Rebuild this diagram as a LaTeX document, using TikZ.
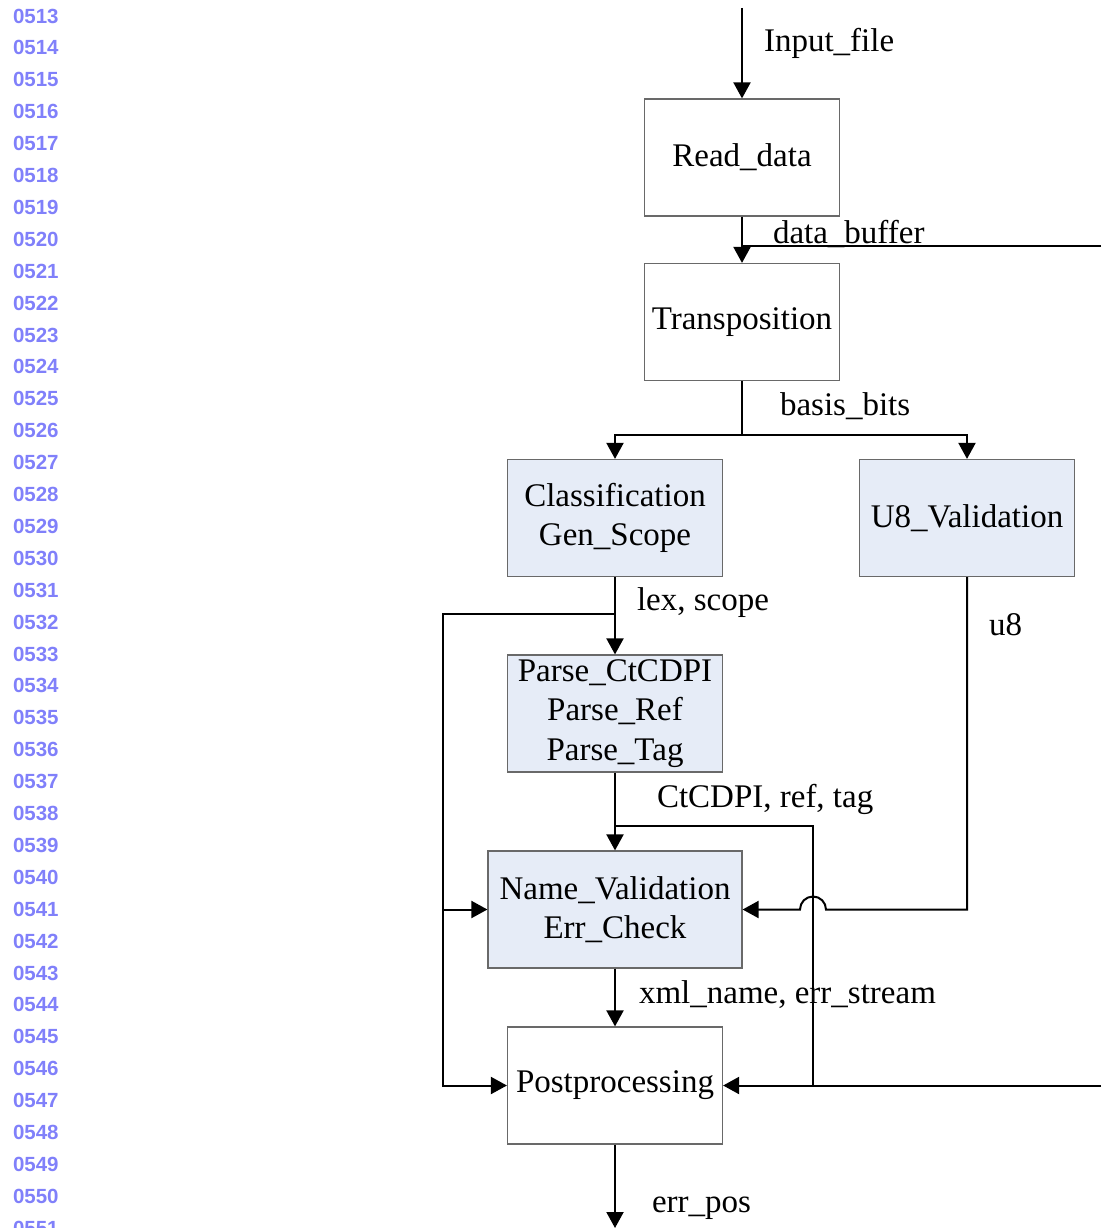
\documentclass[tikz,border=0pt]{standalone}
\usepackage{fontspec}
\setmainfont{Liberation Serif}
\newfontfamily\numfont{Liberation Sans}
\usetikzlibrary{arrows.meta,calc}
\definecolor{flBlue}{RGB}{230,236,247}
\definecolor{flEdge}{RGB}{105,105,105}
\definecolor{flNum}{RGB}{128,128,250}

\begin{document}
\begin{tikzpicture}[x=1pt,y=-1pt,
  font=\fontsize{33}{39.5}\selectfont,
  >={Triangle[length=16pt,width=17pt]},
  every path/.style={line width=2pt},
  box/.style={draw=flEdge, line width=1.2pt, fill=white, minimum width=#1,
    minimum height=117pt, align=center, inner sep=0pt},
  box/.default=215pt,
  hl/.style={fill=flBlue},
  lbl/.style={anchor=west, inner sep=0pt},
  num/.style={anchor=west, inner sep=0pt, text=flNum,
    font=\numfont\bfseries\fontsize{20.5}{24}\selectfont}]
  \useasboundingbox (0,0) rectangle (1101,1228);

  % Line numbers
  \foreach \n in {513,...,551} {
    \pgfmathsetmacro\ly{16+(\n-513)*31.9}
    \node[num] (ln\n) at (12,\ly) {0\n};
  }

  % Input
  \coordinate (in) at (742,8);
  \node[box=195pt] (read) at (742,157.5) {Read\_data};
  \draw[->] (in) -- (read);
  \node[lbl] (l-in) at (763,43) {Input\_file};

  % data_buffer
  \node[box=195pt] (trans) at (742,322) {Transposition};
  \draw[->] (read) -- (trans);
  \coordinate (buf) at (1101,246);
  \draw (buf) -- (buf -| read);
  \node[lbl] (l-buf) at (772,234) {data\_buffer};

  % basis_bits
  \node[box, hl] (class) at (615,518) {Classification\\Gen\_Scope};
  \node[box, hl] (u8) at (967,518) {U8\_Validation};
  \coordinate (split) at (742,435);
  \draw (trans) -- (split);
  \draw[->] (split) -| (class);
  \draw[->] (split) -| (u8);
  \node[lbl] (l-bits) at (779,406) {basis\_bits};

  % lex, scope
  \node[box, hl] (parse) at (615,713.5) {Parse\_CtCDPI\\Parse\_Ref\\Parse\_Tag};
  \node[box=254pt, hl] (name) at (615,909.5) {Name\_Validation\\Err\_Check};
  \node[box] (post) at (615,1085.5) {Postprocessing};
  \draw[->] (class) -- (parse);
  \coordinate (lex) at (615,614);
  \coordinate (lexl) at (443,614);
  \draw[->] (lex) -- (lexl) |- (name);
  \draw[->] (lexl) |- (post);
  \node[lbl] (l-lex) at (636,603) {lex, scope};

  % CtCDPI, ref, tag
  \draw[->] (parse) -- (name);
  \coordinate (tag) at (615,826);
  \coordinate (tagr) at (813,826);
  \draw (tag) -- (tagr) -- (tagr |- post);
  \node[lbl] (l-tag) at (656,799) {CtCDPI, ref, tag};

  % u8 (hop over the tag line)
  \coordinate (hop) at (813,909.5);
  \draw[->] (u8) |- ($(hop)+(13,0)$) arc[start angle=0, end angle=-180, radius=13] -- (name);
  \node[lbl] (l-u8) at (988,625) {u8};

  % xml_name, err_stream
  \draw[->] (name) -- (post);
  \node[lbl] (l-xml) at (638,995) {xml\_name, err\_stream};
  \coordinate (rin) at (1101,1085.5);
  \draw[->] (rin) -- (post);

  % Output
  \coordinate (out) at (615,1228);
  \draw[->] (post) -- (out);
  \node[lbl] (l-out) at (651,1208) {err\_pos};
\end{tikzpicture}
\end{document}
